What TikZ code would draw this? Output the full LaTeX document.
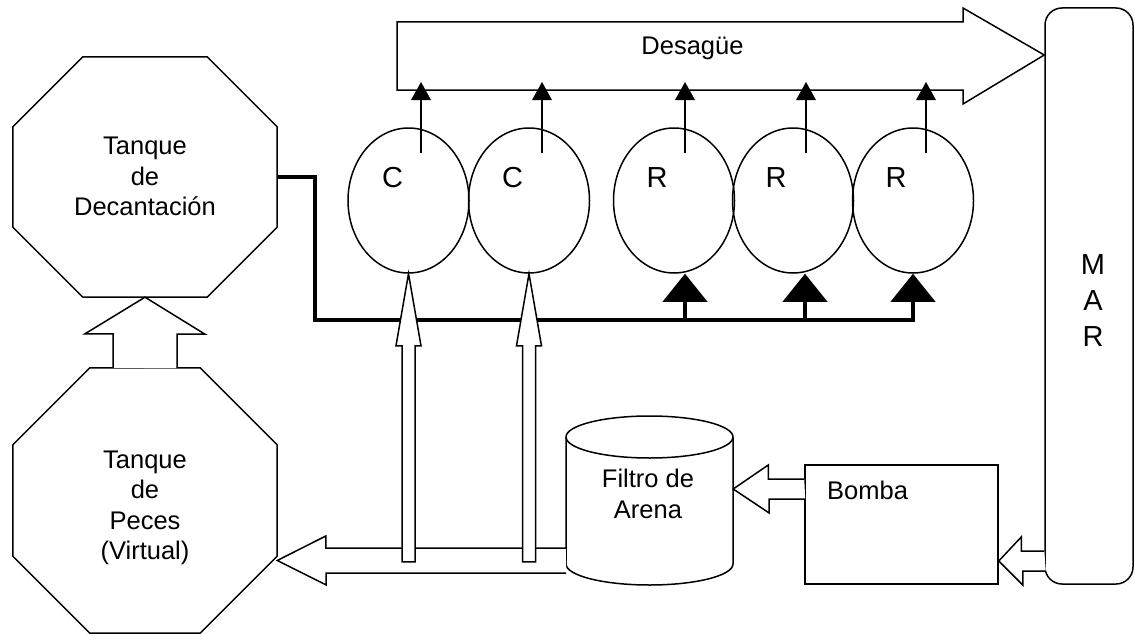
\documentclass[tikz,border=0pt]{standalone}
\usepackage{fontspec}
\setmainfont{Liberation Sans}
\usetikzlibrary{shapes.geometric,arrows.meta,calc}

\begin{document}
\begin{tikzpicture}[x=1pt,y=-1pt,
  line/.style={line width=1.5pt, line join=miter},
  block/.style={line, fill=white},
  pipe/.style={line width=4.3pt, line join=miter},
  tank/.style={draw=none, inner sep=0pt, minimum width=264pt},
  vessel/.style={draw, line width=1.5pt, ellipse, inner sep=0pt,
    minimum width=121pt, minimum height=145pt},
  lbl/.style={font=\fontsize{25.5pt}{30.5pt}\selectfont, align=center, inner sep=0pt},
  big/.style={font=\fontsize{29pt}{36pt}\selectfont, align=center, inner sep=0pt},
  rise/.style={line, -{Triangle[width=20pt,length=18pt,line width=0pt]}},
  feed/.style={pipe, -{Triangle[width=45pt,length=28pt,line width=0pt]}},
]
\useasboundingbox (0,0) rectangle (1135,634);

% ---- frames of the units ----
\node[draw, line width=1.5pt, rounded corners=17pt, inner sep=0pt,
      minimum width=88pt, minimum height=576pt] (mar) at (1089,296) {};
\node[draw, line width=1.5pt, inner sep=0pt,
      minimum width=193pt, minimum height=119pt] (bomba) at (901.5,524.5) {};
\node[inner sep=0pt, minimum width=167pt, minimum height=169pt] (filtro) at (649.5,500.5) {};
\node[tank, minimum height=240pt] (dec) at (145,177) {};
\node[tank, minimum height=265pt] (peces) at (145,500.5) {};

% drain channel
\coordinate (dtip) at (0,55);
\draw[block] (397,22) -- (963,22) -- (963,8) -- (mar.west |- dtip)
  -- (963,104) -- (963,90) -- (397,90) -- cycle;

% settling tank
\draw[block] ($(dec.north west)+(70,0)$) -- ($(dec.north east)+(-70,0)$)
  -- ($(dec.north east)+(0,70)$) -- ($(dec.south east)+(0,-70)$)
  -- ($(dec.south east)+(-70,0)$) -- ($(dec.south west)+(70,0)$)
  -- ($(dec.south west)+(0,-70)$) -- ($(dec.north west)+(0,70)$) -- cycle;

% fish tank
\draw[block] ($(peces.north west)+(77,0)$) -- ($(peces.north east)+(-77,0)$)
  -- ($(peces.north east)+(0,77)$) -- ($(peces.south east)+(0,-77)$)
  -- ($(peces.south east)+(-77,0)$) -- ($(peces.south west)+(77,0)$)
  -- ($(peces.south west)+(0,-77)$) -- ($(peces.north west)+(0,77)$) -- cycle;

% sand filter (cylinder)
\draw[block] (566,437) -- (566,564)
  arc[start angle=180, end angle=360, x radius=83.5pt, y radius=21pt]
  -- (733,437)
  arc[start angle=0, end angle=180, x radius=83.5pt, y radius=21pt] -- cycle;
\draw[line] (566,437)
  arc[start angle=180, end angle=360, x radius=83.5pt, y radius=21pt];

% ---- clarifiers and reactors ----
\node[vessel] (c1) at (408.5,200.5) {};
\node[vessel] (c2) at (529,200.5) {};
\node[vessel] (r1) at (674,200.5) {};
\node[vessel] (r2) at (793,200.5) {};
\node[vessel] (r3) at (913,200.5) {};

% outlets to the drain
\foreach \v/\dx in {c1/12.5, c2/13, r1/11, r2/13, r3/13}
  \draw[rise] ($(\v.center)+(\dx,-47.5)$) -- ++(0,-71);

% supply pipe from the settling tank to the reactors
\coordinate (jn) at (315,320);
\draw[feed] (dec.east) -| (jn) -| (r3.south);
\coordinate (t1) at ($(r1.south)+(11,0)$);
\coordinate (t2) at ($(r2.south)+(12,0)$);
\draw[feed] (t1 |- jn) -- (t1);
\draw[feed] (t2 |- jn) -- (t2);

% filter to fish tank
\coordinate (pf) at (0,560.5);
\draw[block] ($(filtro.west |- pf)+(0,-12.5)$) -- ++(-240,0) -- ++(0,-12)
  -- (peces.east |- pf) -- ++(49,24.5) -- ++(0,-12) -- ++(240,0);

% filter to clarifiers
\foreach \v in {c1,c2}
  \draw[block] ($(\v.south)+(-6.5,288)$) -- ++(0,-216) -- ++(-6,0) -- (\v.south)
    -- ++(12.5,72) -- ++(-6,0) -- ++(0,216) -- cycle;

% fish tank to settling tank
\draw[block] ($(peces.north)+(-32,0)$) -- ++(0,-34) -- ++(-28,0) -- (dec.south)
  -- ++(60,37) -- ++(-28,0) -- ++(0,34);

% pump to filter
\coordinate (pb) at (0,489);
\draw[block] ($(bomba.west |- pb)+(0,-10)$) -- ++(-36,0) -- ++(0,-14)
  -- (filtro.east |- pb) -- ++(36,24) -- ++(0,-14) -- ++(36,0);

% sea to pump
\coordinate (pm) at (0,561);
\draw[block] ($(mar.west |- pm)+(0,-10)$) -- ++(-23,0) -- ++(0,-14)
  -- (bomba.east |- pm) -- ++(24,24) -- ++(0,-14) -- ++(23,0);

% ---- labels ----
\node[lbl, anchor=base] (dtxt) at (692.5,55) {Desagüe};
\node[lbl] (dectxt) at (145,176.5) {Tanque\\de\\Decantación};
\node[lbl] (pectxt) at (145,508) {Tanque\\de\\Peces\\(Virtual)};
\node[lbl] (ftxt) at (648,494) {Filtro de\\Arena};
\node[lbl, anchor=base west] (btxt) at (827,499) {Bomba};
\node[big] (martxt) at (1093,300.5) {M\\A\\R};
\node[big, anchor=base] (c1l) at (392.5,187) {C};
\node[big, anchor=base] (c2l) at (512.5,187) {C};
\node[big, anchor=base] (r1l) at (657,187) {R};
\node[big, anchor=base] (r2l) at (776,187) {R};
\node[big, anchor=base] (r3l) at (896,187) {R};
\end{tikzpicture}
\end{document}
